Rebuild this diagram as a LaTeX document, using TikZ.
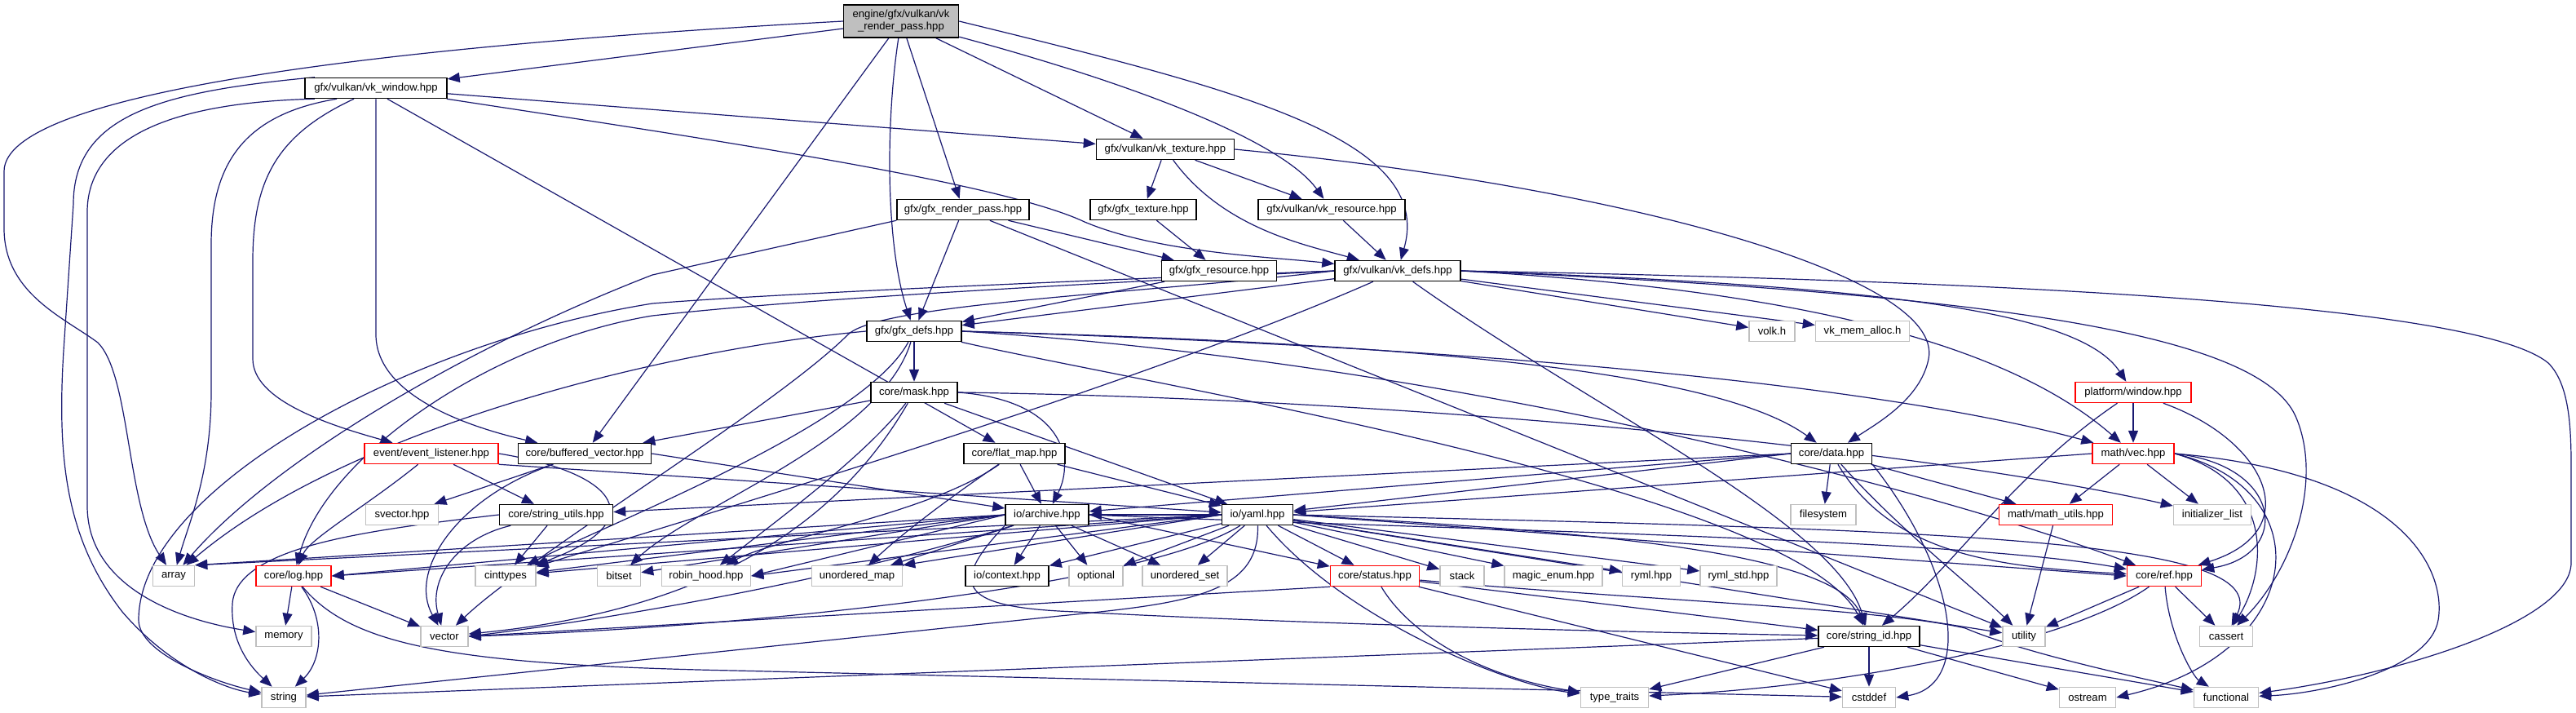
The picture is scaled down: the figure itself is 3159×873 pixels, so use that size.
\documentclass[tikz,border=0pt]{standalone}
\usepackage{fontspec}
\setmainfont{Liberation Sans}
\usetikzlibrary{arrows.meta}
\pgfdeclarelayer{bg}
\pgfsetlayers{bg,main}
\definecolor{edgecol}{HTML}{191970}
\definecolor{nodered}{HTML}{FF0000}
\definecolor{nodegray}{HTML}{BFBFBF}
\definecolor{rootfill}{HTML}{BFBFBF}
\tikzset{
  nbase/.style={rectangle, draw, fill=white, minimum height=12.5pt, inner sep=0pt, line width=0.75pt,
    font=\fontsize{6.55}{7.6}\selectfont, text=black},
  nblack/.style={nbase, draw=black},
  nred/.style={nbase, draw=nodered},
  ngray/.style={nbase, draw=nodegray},
  nroot/.style={nbase, draw=black, fill=rootfill, align=center, minimum height=20pt},
  dep/.style={draw=edgecol, line width=0.6pt, -{Triangle[length=7.5pt,width=6pt]}}
}
\begin{document}
\begin{tikzpicture}[x=0.5pt,y=-0.5pt]
\begin{pgfonlayer}{bg}
\fill[white] (0,0) rectangle (3159,873);
\end{pgfonlayer}
\useasboundingbox (0,0) rectangle (3159,873);
% nodes
\node[nroot, minimum width=70.5pt] (root) at (1105,26) {engine/gfx/vulkan/vk\\\_render\_pass.hpp};
\node[nblack, minimum width=87pt] (vkwin) at (461,108) {gfx/vulkan/vk\_window.hpp};
\node[nblack, minimum width=84.5pt] (vktex) at (1429,183) {gfx/vulkan/vk\_texture.hpp};
\node[nblack, minimum width=81pt] (gfxrp) at (1181,257) {gfx/gfx\_render\_pass.hpp};
\node[nblack, minimum width=65pt] (gfxtex) at (1402,257) {gfx/gfx\_texture.hpp};
\node[nblack, minimum width=90pt] (vkres) at (1633,257) {gfx/vulkan/vk\_resource.hpp};
\node[nblack, minimum width=70.5pt] (gfxres) at (1495,332) {gfx/gfx\_resource.hpp};
\node[nblack, minimum width=77pt] (vkdefs) at (1714,332) {gfx/vulkan/vk\_defs.hpp};
\node[nblack, minimum width=58pt] (gfxdefs) at (1121,406) {gfx/gfx\_defs.hpp};
\node[ngray, minimum width=28pt] (volk) at (2173,406) {volk.h};
\node[ngray, minimum width=57.5pt] (vma) at (2284,406) {vk\_mem\_alloc.h};
\node[nblack, minimum width=53pt] (mask) at (1121,481) {core/mask.hpp};
\node[nred, minimum width=71pt] (pwin) at (2616,481) {platform/window.hpp};
\node[nred, minimum width=82pt] (evl) at (529,556) {event/event\_listener.hpp};
\node[nblack, minimum width=81.5pt] (bufv) at (717,556) {core/buffered\_vector.hpp};
\node[nblack, minimum width=62pt] (flatmap) at (1244,556) {core/flat\_map.hpp};
\node[nblack, minimum width=49.5pt] (data) at (2246,556) {core/data.hpp};
\node[nred, minimum width=50pt] (vec) at (2616,556) {math/vec.hpp};
\node[ngray, minimum width=44.5pt] (svector) at (493,631) {svector.hpp};
\node[nblack, minimum width=69.5pt] (strutil) at (682,631) {core/string\_utils.hpp};
\node[nblack, minimum width=51pt] (archive) at (1284,631) {io/archive.hpp};
\node[nblack, minimum width=43.5pt] (yaml) at (1542,631) {io/yaml.hpp};
\node[ngray, minimum width=40pt] (filesystem) at (2236,631) {filesystem};
\node[nred, minimum width=69.5pt] (mathutils) at (2521,631) {math/math\_utils.hpp};
\node[ngray, minimum width=47.5pt] (initlist) at (2713,631) {initializer\_list};
\node[ngray, minimum width=25.5pt] (array) at (213,706) {array};
\node[nred, minimum width=46pt] (log) at (360,706) {core/log.hpp};
\node[ngray, minimum width=37pt] (cinttypes) at (620,706) {cinttypes};
\node[ngray, minimum width=26.5pt] (bitset) at (759,706) {bitset};
\node[ngray, minimum width=54.5pt] (robin) at (866,706) {robin\_hood.hpp};
\node[ngray, minimum width=55.5pt] (umap) at (1051,706) {unordered\_map};
\node[nblack, minimum width=51pt] (context) at (1235,706) {io/context.hpp};
\node[ngray, minimum width=33pt] (optional) at (1344,706) {optional};
\node[ngray, minimum width=52pt] (uset) at (1453,706) {unordered\_set};
\node[nred, minimum width=54.5pt] (status) at (1686,706) {core/status.hpp};
\node[ngray, minimum width=27pt] (stack) at (1793,706) {stack};
\node[ngray, minimum width=60pt] (magic) at (1905,706) {magic\_enum.hpp};
\node[ngray, minimum width=35.5pt] (ryml) at (2025,706) {ryml.hpp};
\node[ngray, minimum width=47pt] (rymlstd) at (2132,706) {ryml\_std.hpp};
\node[nred, minimum width=45.5pt] (ref) at (2654,706) {core/ref.hpp};
\node[ngray, minimum width=34pt] (memory) at (348,780) {memory};
\node[ngray, minimum width=29pt] (vector) at (545,780) {vector};
\node[nblack, minimum width=62pt] (stringid) at (2292,780) {core/string\_id.hpp};
\node[ngray, minimum width=26pt] (utility) at (2482,780) {utility};
\node[ngray, minimum width=32.5pt] (cassert) at (2730,780) {cassert};
\node[ngray, minimum width=27pt] (string) at (348,855) {string};
\node[ngray, minimum width=41.5pt] (typetraits) at (1980,855) {type\_traits};
\node[ngray, minimum width=32.5pt] (cstddef) at (2292,855) {cstddef};
\node[ngray, minimum width=34.5pt] (ostream) at (2560,855) {ostream};
\node[ngray, minimum width=39.5pt] (functional) at (2730,855) {functional};
% edges
\begin{pgfonlayer}{bg}
% root
\draw[dep] (root) -- (vkwin);
\draw[dep] (root.west) .. controls (500,55) and (5,110) .. (5,210) -- (5,280) .. controls (5,360) and (80,390) .. (120,420) .. controls (160,460) and (155,620) .. (array);
\draw[dep] (root) -- (bufv);
\draw[dep] (root) .. controls (1086,150) and (1086,300) .. (gfxdefs);
\draw[dep] (root) -- (gfxrp);
\draw[dep] (root) -- (vktex);
\draw[dep] (root) .. controls (1380,100) and (1570,170) .. (vkres);
\draw[dep] (root.east) .. controls (1520,110) and (1760,170) .. (vkdefs);
% vk_window
\draw[dep] (vkwin) -- (vktex);
\draw[dep] (vkwin) .. controls (900,175) and (1230,225) .. (1330,272) .. controls (1420,310) and (1560,315) .. (vkdefs);
\draw[dep] (vkwin.170) .. controls (200,112) and (90,140) .. (90,250) -- (78,430) .. controls (70,560) and (80,660) .. (150,750) .. controls (210,820) and (280,845) .. (string);
\draw[dep] (vkwin.190) .. controls (230,125) and (107,160) .. (107,260) -- (107,620) .. controls (107,720) and (220,760) .. (memory);
\draw[dep] ([xshift=-24pt]vkwin.south) .. controls (300,140) and (259,200) .. (259,300) -- (259,480) .. controls (259,580) and (232,640) .. (array);
\draw[dep] ([xshift=-13.5pt]vkwin.south) .. controls (340,165) and (310,220) .. (310,320) -- (310,440) .. controls (310,490) and (400,520) .. (evl);
\draw[dep] (vkwin.south) -- (461,410) .. controls (461,480) and (560,520) .. (bufv);
\draw[dep] ([xshift=7pt]vkwin.south) -- (flatmap);
% vk_texture
\draw[dep] (vktex) -- (gfxtex);
\draw[dep] (vktex) -- (vkres);
\draw[dep] (vktex) .. controls (1500,280) and (1600,300) .. (vkdefs);
\draw[dep] (vktex.east) .. controls (2000,230) and (2385,340) .. (2365,440) .. controls (2355,490) and (2300,520) .. (data);
\draw[dep] (vkres) -- (vkdefs);
\draw[dep] (gfxtex) -- (gfxres);
% gfx_render_pass
\draw[dep] (gfxrp) -- (gfxdefs);
\draw[dep] (gfxrp) -- (gfxres);
\draw[dep] (gfxrp.south west) -- (800,337) .. controls (560,430) and (330,570) .. (array);
\draw[dep] (gfxrp) -- (utility);
\draw[dep] (gfxres) -- (gfxdefs);
% vk_defs
\draw[dep] (vkdefs) -- (gfxdefs);
\draw[dep] (vkdefs) -- (volk);
\draw[dep] (vkdefs) -- (vma);
\draw[dep] (vkdefs.east) .. controls (2500,345) and (3040,375) .. (3125,445) .. controls (3150,470) and (3153,520) .. (3153,570) -- (3153,690) .. controls (3153,760) and (2950,825) .. (functional);
\draw[dep] (vkdefs.east) .. controls (2300,350) and (2550,380) .. (pwin);
\draw[dep] (vkdefs.east) .. controls (2450,360) and (2770,410) .. (2815,510) .. controls (2850,590) and (2810,700) .. (cassert);
\draw[dep] (vkdefs.east) .. controls (2200,355) and (2460,420) .. (vec);
\draw[dep] (vkdefs) .. controls (1950,500) and (2250,640) .. (stringid);
\draw[dep] (vkdefs.west) .. controls (1300,345) and (950,360) .. (800,372) .. controls (500,420) and (170,600) .. (170,760) .. controls (170,800) and (260,835) .. (string);
\draw[dep] (vkdefs.west) .. controls (1300,350) and (1000,365) .. (800,387) .. controls (600,420) and (400,560) .. (log);
\draw[dep] (vkdefs.west) .. controls (1400,360) and (1080,372) .. (1040,410) .. controls (950,500) and (650,680) .. (vector);
\draw[dep] (vkdefs) .. controls (1400,470) and (900,620) .. (cinttypes);
% gfx_defs
\draw[dep] (gfxdefs) -- (mask);
\draw[dep] (gfxdefs.west) .. controls (800,430) and (420,530) .. (array);
\draw[dep] (gfxdefs) .. controls (1060,520) and (750,640) .. (cinttypes);
\draw[dep] (gfxdefs) .. controls (1080,540) and (850,620) .. (bitset);
\draw[dep] (gfxdefs.east) .. controls (1700,420) and (2100,450) .. (data);
\draw[dep] (gfxdefs.east) .. controls (1800,425) and (2300,470) .. (vec);
\draw[dep] (gfxdefs.east) .. controls (1800,445) and (2400,610) .. (ref);
\draw[dep] (gfxdefs) .. controls (1400,470) and (2200,600) .. (stringid);
% mask
\draw[dep] (mask) -- (bufv);
\draw[dep] (mask.east) .. controls (1300,490) and (1320,560) .. (archive);
\draw[dep] (mask) -- (yaml);
\draw[dep] (mask.east) .. controls (1800,490) and (2400,560) .. (initlist);
\draw[dep] (mask) .. controls (1040,620) and (900,745) .. (vector);
\draw[dep] (mask) .. controls (1060,560) and (950,640) .. (robin);
% platform/window
\draw[dep] (pwin) -- (vec);
\draw[dep] (pwin) .. controls (2780,540) and (2830,650) .. (ref);
\draw[dep] (pwin) .. controls (2470,580) and (2400,690) .. (stringid);
% event_listener
\draw[dep] (evl) .. controls (450,620) and (380,660) .. (log);
\draw[dep] (evl) -- (strutil);
\draw[dep] (evl.east) .. controls (760,580) and (800,640) .. (cinttypes);
\draw[dep] (evl.south east) -- (yaml);
% buffered_vector
\draw[dep] (bufv) -- (svector);
\draw[dep] (bufv) .. controls (560,610) and (500,700) .. (vector);
\draw[dep] (bufv.east) -- (archive);
% flat_map
\draw[dep] (flatmap) -- (archive);
\draw[dep] (flatmap) -- (yaml);
\draw[dep] (flatmap) .. controls (1150,620) and (1100,660) .. (umap);
\draw[dep] (flatmap) .. controls (1140,630) and (950,660) .. (robin);
% data
\draw[dep] (data) -- (filesystem);
\draw[dep] (data) -- (mathutils);
\draw[dep] (data.west) -- (archive);
\draw[dep] (data.west) -- (yaml);
\draw[dep] (data.west) -- (strutil);
\draw[dep] (data) .. controls (2330,650) and (2420,720) .. (utility);
\draw[dep] (data) .. controls (2320,680) and (2450,695) .. (ref);
\draw[dep] (data.south east) .. controls (2400,700) and (2420,840) .. (cstddef.east);
% vec
\draw[dep] (vec) -- (mathutils);
\draw[dep] (vec) -- (initlist);
\draw[dep] (vec.west) -- (yaml);
\draw[dep] (vec.east) .. controls (2800,570) and (2810,680) .. (ref);
\draw[dep] (vec.east) .. controls (2790,590) and (2780,700) .. (cassert);
\draw[dep] (vec.east) .. controls (2850,600) and (2830,800) .. (ostream.east);
\draw[dep] (vec.east) .. controls (2950,580) and (3000,700) .. (2990,760) .. controls (2980,820) and (2850,850) .. (functional);
% string_utils
\draw[dep] (strutil.west) .. controls (450,650) and (290,670) .. (285,740) .. controls (282,790) and (310,820) .. (string);
\draw[dep] (strutil) .. controls (560,660) and (525,710) .. (vector);
\draw[dep] (strutil) -- (cinttypes);
% archive
\draw[dep] (archive) -- (context);
\draw[dep] (archive) -- (optional);
\draw[dep] (archive) -- (uset);
\draw[dep] (archive) -- (umap);
\draw[dep] (archive.west) -- (robin.east);
\draw[dep] (archive.west) -- (bitset);
\draw[dep] (archive.west) -- (cinttypes);
\draw[dep] (archive.west) -- (array.north east);
\draw[dep] (archive.west) -- (log.east);
\draw[dep] (archive) .. controls (1000,720) and (700,765) .. (vector.east);
\draw[dep] (archive.east) -- (status);
\draw[dep] (archive.south west) .. controls (1160,720) and (1180,745) .. (1320,750) .. controls (1600,765) and (2000,775) .. (stringid);
\draw[dep] (archive.east) .. controls (1800,650) and (2400,660) .. (ref);
% yaml
\draw[dep] (yaml) -- (archive);
\draw[dep] (yaml) -- (context);
\draw[dep] (yaml) -- (optional);
\draw[dep] (yaml) -- (uset);
\draw[dep] (yaml.west) -- (umap.north east);
\draw[dep] (yaml.west) -- (robin.east);
\draw[dep] (yaml.west) -- (cinttypes);
\draw[dep] (yaml.west) -- (array.north east);
\draw[dep] (yaml.west) -- (log.east);
\draw[dep] (yaml) .. controls (1400,720) and (900,770) .. (vector.east);
\draw[dep] (yaml) -- (status);
\draw[dep] (yaml) -- (stack);
\draw[dep] (yaml) -- (magic);
\draw[dep] (yaml) -- (ryml);
\draw[dep] (yaml) -- (rymlstd);
\draw[dep] (yaml.east) .. controls (1900,650) and (2250,670) .. (stringid);
\draw[dep] (yaml.east) -- (ref.west);
\draw[dep] (yaml.east) .. controls (2400,650) and (2790,660) .. (cassert);
\draw[dep] (yaml) .. controls (1650,760) and (1850,840) .. (typetraits);
\draw[dep] (yaml) -- (utility);
\draw[dep] (yaml) .. controls (1545,730) and (1450,740) .. (1300,755) -- (string);
% math_utils, ref
\draw[dep] (mathutils) -- (utility);
\draw[dep] (ref) -- (utility);
\draw[dep] (ref) -- (cassert);
\draw[dep] (ref) .. controls (2660,780) and (2690,830) .. (functional);
\draw[dep] (ref) .. controls (2550,780) and (2300,840) .. (typetraits);
% log
\draw[dep] (log) -- (memory);
\draw[dep] (log) .. controls (400,760) and (395,810) .. (string);
\draw[dep] (log) -- (vector);
\draw[dep] (log) .. controls (430,790) and (550,815) .. (900,822) -- (cstddef);
% status
\draw[dep] (status) -- (stringid);
\draw[dep] (status) .. controls (1730,780) and (1820,830) .. (typetraits);
\draw[dep] (status) -- (cstddef);
\draw[dep] (status) .. controls (2000,735) and (2300,745) .. (2410,770) .. controls (2480,800) and (2620,830) .. (functional);
\draw[dep] (status.south west) -- (vector.east);
% string_id
\draw[dep] (stringid) -- (string);
\draw[dep] (stringid) -- (typetraits);
\draw[dep] (stringid) -- (cstddef);
\draw[dep] (stringid) -- (ostream);
\draw[dep] (stringid) -- (functional);
\end{pgfonlayer}
\end{tikzpicture}
\end{document}
